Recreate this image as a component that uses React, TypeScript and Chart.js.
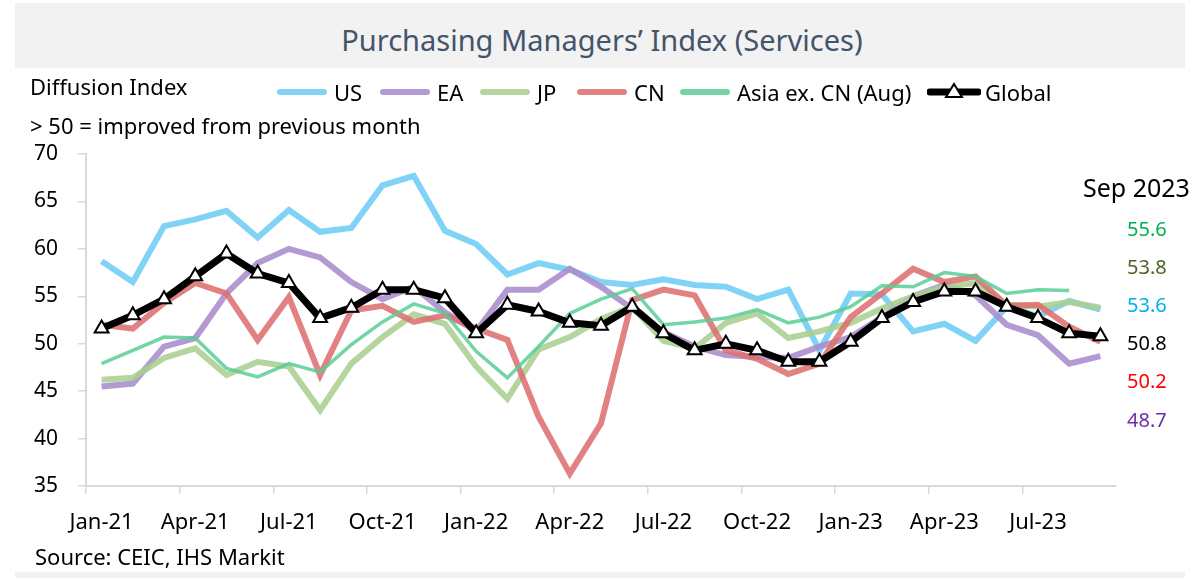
import React, { useEffect, useRef } from "react";
import { Chart, registerables } from "chart.js";

Chart.register(...registerables);

const monthLabels = [
  "Jan-21", "Feb-21", "Mar-21", "Apr-21", "May-21", "Jun-21", "Jul-21", "Aug-21", "Sep-21", "Oct-21", "Nov-21", "Dec-21",
  "Jan-22", "Feb-22", "Mar-22", "Apr-22", "May-22", "Jun-22", "Jul-22", "Aug-22", "Sep-22", "Oct-22", "Nov-22", "Dec-22",
  "Jan-23", "Feb-23", "Mar-23", "Apr-23", "May-23", "Jun-23", "Jul-23", "Aug-23", "Sep-23",
];

const usValues = [
  58.7, 56.5, 62.4, 63.1, 64.0, 61.2, 64.1, 61.8, 62.2, 66.7, 67.7, 61.9,
  60.5, 57.3, 58.5, 57.8, 56.5, 56.2, 56.8, 56.2, 56.0, 54.7, 55.7, 49.3,
  55.3, 55.2, 51.3, 52.1, 50.3, 53.9, 52.9, 54.5, 53.6,
];

const eaValues = [
  45.5, 45.8, 49.7, 50.6, 55.3, 58.5, 60.0, 59.1, 56.5, 54.7, 56.0, 53.3,
  51.3, 55.7, 55.7, 57.9, 56.0, 53.7, 51.2, 49.7, 48.8, 48.6, 48.5, 49.7,
  50.7, 52.8, 55.0, 56.2, 55.1, 52.0, 50.9, 47.9, 48.7,
];

const jpValues = [
  46.2, 46.4, 48.5, 49.5, 46.7, 48.1, 47.6, 43.0, 47.9, 50.7, 53.1, 52.1,
  47.6, 44.2, 49.4, 50.7, 52.6, 53.9, 50.3, 49.5, 52.2, 53.2, 50.6, 51.3,
  52.2, 53.7, 55.0, 56.0, 56.4, 54.1, 53.9, 54.4, 53.8,
];

const cnValues = [
  52.0, 51.6, 54.3, 56.4, 55.3, 50.4, 54.9, 46.7, 53.5, 54.0, 52.3, 53.0,
  51.6, 50.4, 42.3, 36.3, 41.6, 54.6, 55.7, 55.1, 49.3, 48.4, 46.8, 47.9,
  52.8, 55.3, 57.9, 56.5, 57.1, 54.0, 54.1, 51.8, 50.2,
];

const asiaValues = [
  47.9, 49.3, 50.7, 50.6, 47.4, 46.5, 47.9, 47.0, 49.9, 52.3, 54.2, 53.2,
  49.2, 46.4, 49.7, 53.2, 54.7, 55.8, 52.0, 52.3, 52.7, 53.6, 52.2, 52.8,
  53.9, 56.1, 56.0, 57.5, 57.1, 55.3, 55.7, 55.6, null,
];

const globalValues = [
  51.6, 53.0, 54.7, 57.1, 59.5, 57.4, 56.4, 52.7, 53.8, 55.7, 55.7, 54.8,
  51.1, 54.1, 53.4, 52.2, 51.9, 53.9, 51.1, 49.3, 50.0, 49.3, 48.1, 48.1,
  50.2, 52.7, 54.4, 55.5, 55.5, 53.9, 52.7, 51.1, 50.8,
];

const seriesNames = ["US", "EA", "JP", "CN", "Asia ex. CN (Aug)", "Global"];
const latestLabels = ["55.6", "53.8", "53.6", "50.8", "50.2", "48.7"];
const latestTitle = "Sep 2023";

const FONT = "'Noto Sans', 'DejaVu Sans', sans-serif";

const lineColors = {
  us: "rgba(110, 205, 245, 0.88)",
  ea: "rgba(170, 140, 205, 0.88)",
  jp: "rgba(170, 208, 145, 0.88)",
  cn: "rgba(222, 112, 112, 0.88)",
  asia: "rgba(90, 205, 150, 0.85)",
  global: "#000000",
};

const latestColors = ["#00b050", "#4f6228", "#00b0f0", "#000000", "#ff0000", "#7030a0"];

export default function App() {
  const canvasRef = useRef<HTMLCanvasElement | null>(null);

  useEffect(() => {
    const canvas = canvasRef.current;
    if (!canvas) return;
    const chart = new Chart(canvas, {
      type: "line",
      data: {
        labels: monthLabels,
        datasets: [
          { label: seriesNames[0], data: usValues, borderColor: lineColors.us, borderWidth: 6, pointRadius: 0, order: 5 },
          { label: seriesNames[1], data: eaValues, borderColor: lineColors.ea, borderWidth: 6, pointRadius: 0, order: 4 },
          { label: seriesNames[2], data: jpValues, borderColor: lineColors.jp, borderWidth: 6, pointRadius: 0, order: 3 },
          { label: seriesNames[3], data: cnValues, borderColor: lineColors.cn, borderWidth: 6, pointRadius: 0, order: 2 },
          { label: seriesNames[4], data: asiaValues, borderColor: lineColors.asia, borderWidth: 3.5, pointRadius: 0, order: 1 },
          {
            label: seriesNames[5],
            data: globalValues,
            borderColor: lineColors.global,
            borderWidth: 7,
            pointStyle: "triangle",
            pointRadius: 8,
            pointBackgroundColor: "#ffffff",
            pointBorderColor: "#000000",
            pointBorderWidth: 2,
            order: 0,
          },
        ],
      },
      options: {
        responsive: false,
        animation: false,
        devicePixelRatio: 1,
        elements: { line: { tension: 0, borderCapStyle: "butt", borderJoinStyle: "miter" } },
        layout: { padding: { left: 30, top: 154, right: 88, bottom: 42 } },
        plugins: { legend: { display: false }, tooltip: { enabled: false }, title: { display: false } },
        scales: {
          x: {
            type: "category",
            offset: true,
            afterFit: (scale: any) => { scale.height = 50; },
            grid: {
              offset: true,
              drawOnChartArea: false,
              drawTicks: true,
              tickLength: 8,
              lineWidth: 1.5,
              color: (ctx: any) => (ctx.index % 3 === 0 ? "#d9d9d9" : "rgba(0,0,0,0)"),
            },
            border: { display: true, color: "#d9d9d9", width: 2 },
            ticks: {
              autoSkip: false,
              maxRotation: 0,
              minRotation: 0,
              padding: 16,
              color: "#000000",
              font: { family: FONT, size: 22 },
              callback: (_v: any, i: number) => (i % 3 === 0 ? monthLabels[i] : ""),
            },
          },
          y: {
            min: 35,
            max: 70,
            afterFit: (scale: any) => { scale.width = 56; },
            grid: { drawOnChartArea: false, drawTicks: true, tickLength: 8, color: "#d9d9d9", lineWidth: 1.5 },
            border: { display: true, color: "#d9d9d9", width: 2 },
            ticks: {
              stepSize: 5,
              padding: 20,
              color: "#000000",
              font: { family: FONT, size: 21 },
            },
          },
        },
      },
    });
    return () => chart.destroy();
  }, []);

  const legendItems = [
    { name: seriesNames[0], color: lineColors.us, lineX: 277, textX: 334 },
    { name: seriesNames[1], color: lineColors.ea, lineX: 380, textX: 437 },
    { name: seriesNames[2], color: lineColors.jp, lineX: 480, textX: 537 },
    { name: seriesNames[3], color: lineColors.cn, lineX: 577, textX: 634 },
    { name: seriesNames[4], color: lineColors.asia, lineX: 680, textX: 737 },
  ];

  const latestTops = [229, 267, 305, 343, 381, 420];

  return (
    <div style={{ position: "absolute", left: 0, top: 0, width: 1204, height: 578, background: "#ffffff", fontFamily: FONT, overflow: "hidden" }}>
      <div style={{ position: "absolute", left: 15, top: 3, width: 1170, height: 65, background: "#f2f2f2" }} />
      <div style={{ position: "absolute", left: 15, top: 572, width: 1170, height: 6, background: "#f2f2f2" }} />
      <div style={{ position: "absolute", left: 0, width: 1204, top: 40, transform: "translateY(-50%)", textAlign: "center", color: "#44546a", fontSize: 29, lineHeight: "36px", whiteSpace: "nowrap" }}>
        Purchasing Managers’ Index (Services)
      </div>
      <canvas ref={canvasRef} width={1204} height={578} style={{ position: "absolute", left: 0, top: 0, width: 1204, height: 578 }} />
      <div style={{ position: "absolute", left: 30, top: 86, transform: "translateY(-50%)", fontSize: 22, lineHeight: "28px", color: "#000", whiteSpace: "nowrap" }}>Diffusion Index</div>
      <div style={{ position: "absolute", left: 30, top: 125, transform: "translateY(-50%)", fontSize: 22, lineHeight: "28px", color: "#000", whiteSpace: "nowrap" }}>&gt; 50 = improved from previous month</div>
      {legendItems.map((it) => (
        <React.Fragment key={it.name}>
          <div style={{ position: "absolute", left: it.lineX, top: 89, width: 50, height: 6, borderRadius: 3, background: it.color }} />
          <div style={{ position: "absolute", left: it.textX, top: 92, transform: "translateY(-50%)", fontSize: 22, lineHeight: "28px", color: "#000", whiteSpace: "nowrap" }}>{it.name}</div>
        </React.Fragment>
      ))}
      <svg style={{ position: "absolute", left: 927, top: 80 }} width={54} height={24}>
        <line x1={3} y1={12} x2={51} y2={12} stroke="#000" strokeWidth={7} strokeLinecap="round" />
        <polygon points="27,4 35,17 19,17" fill="#fff" stroke="#000" strokeWidth={2} />
      </svg>
      <div style={{ position: "absolute", left: 985, top: 92, transform: "translateY(-50%)", fontSize: 22, lineHeight: "28px", color: "#000", whiteSpace: "nowrap" }}>{seriesNames[5]}</div>
      <div style={{ position: "absolute", left: 1083, top: 187, transform: "translateY(-50%)", fontSize: 25, lineHeight: "30px", color: "#000", whiteSpace: "nowrap" }}>{latestTitle}</div>
      {latestLabels.map((t, i) => (
        <div key={i} style={{ position: "absolute", left: 1127, top: latestTops[i], transform: "translateY(-50%)", fontSize: 20, lineHeight: "26px", color: latestColors[i], whiteSpace: "nowrap" }}>{t}</div>
      ))}
      <div style={{ position: "absolute", left: 35, top: 556, transform: "translateY(-50%)", fontSize: 22, lineHeight: "28px", color: "#000", whiteSpace: "nowrap" }}>Source: CEIC, IHS Markit</div>
    </div>
  );
}
